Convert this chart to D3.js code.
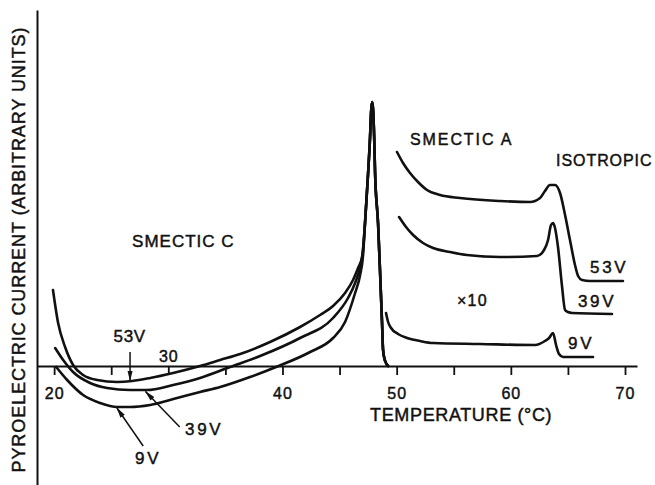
<!DOCTYPE html>
<html>
<head>
<meta charset="utf-8">
<script src="https://cdn.jsdelivr.net/npm/d3@7"></script>
<style>
  body { margin: 0; background: #fff; }
  text { font-family: "Liberation Sans", Arial, sans-serif; fill: #111; stroke: #111; stroke-width: 0.45px; }
</style>
</head>
<body>
<script>
// [temperature (°C), pyroelectric current (arb. units)]

// smectic C branch, one per field
var smC53 = [[19.9,7.6],[20.35,4.3],[20.96,1.9],[21.66,0.1],[22.54,-0.9],[23.77,-1.4],[25.52,-1.6],
  [26.83,-1.5],[28.41,-1.2],[30.42,-0.7],[32.78,0],[34.54,0.6],[36.29,1.2],[38.91,2.4],[41.54,3.9],
  [43.29,5.1],[44.43,6.0],[45.48,7.3],[46.18,8.6],[46.62,9.8],[46.97,10.9]];
var smC39 = [[20.09,1.8],[20.79,0.6],[21.66,-0.6],[23.15,-1.7],[24.64,-2.2],[26.65,-2.4],[28.14,-2.4],
  [30.42,-1.9],[32.78,-1.2],[35.41,-0.1],[38.04,1.0],[41.54,2.8],[44.43,4.8],[45.74,6.8],[46.36,8.3],
  [46.8,9.9],[47.06,11.6]];
var smC9 = [[20.18,-0.1],[21.14,-1.4],[22.54,-2.9],[24.03,-3.7],[25.52,-4.1],[26.65,-4.1],[28.41,-3.9],
  [30.77,-3.2],[32.78,-2.6],[34.54,-2.1],[37.16,-1.1],[39.44,-0.1],[42.42,1.4],[44.43,2.8],[45.48,4.4],
  [46.36,7.3],[46.8,9.1],[47.06,11.1]];

// the transition peak all three share
var peak = [[47.23,14.3],[47.5,19.3],[47.67,22.9],[47.76,25.4],[47.85,26.4],[47.94,25.6],[48.03,22.9],
  [48.11,19.3],[48.37,14.3],[48.55,9.3],[48.72,4.3],[48.81,1.6],[48.99,0.5],[49.25,0]];

// smectic A / isotropic branch (x10)
var smA53 = [[50.03,21.4],[50.56,20.3],[51.17,19.3],[51.87,18.4],[52.66,17.6],[53.8,17.1],[55.55,16.8],
  [59.05,16.5],[61.68,16.4],[62.56,16.8],[62.99,17.5],[63.43,18.1],[63.87,18.1],[64.31,17.3],
  [64.75,15.1],[65.18,12.6],[65.62,10.1],[65.89,9.0],[66.24,8.6],[66.93,8.5],[69.82,8.5]];
var smA39 = [[50.21,14.9],[50.82,13.9],[51.44,13.1],[52.31,12.3],[53.19,11.8],[54.68,11.4],[56.16,11.1],
  [59.05,10.9],[62.29,11.0],[62.91,11.6],[63.26,12.6],[63.52,14.1],[63.7,14.3],[63.87,13.8],
  [64.13,11.9],[64.48,8.0],[64.75,5.6],[65.01,5.4],[65.36,5.3],[68.86,5.2]];
var smA9 = [[49.07,5.3],[49.25,4.4],[49.51,3.8],[50.12,3.2],[50.91,2.8],[52.05,2.5],[53.19,2.3],
  [57.3,2.2],[62.12,2.1],[62.99,2.5],[63.35,2.8],[63.7,3.3],[63.96,2.1],[64.22,1.2],[64.57,0.9],[67.2,0.9]];

var xTicks = [20, 25, 30, 35, 40, 45, 50, 55, 60, 65, 70];
var voltLabels = ["53V", "39V", "9V"];
var phaseLabels = ["SMECTIC C", "SMECTIC A", "ISOTROPIC"];
var xTitle = "TEMPERATURE (\u00B0C)";
var yTitle = "PYROELECTRIC CURRENT (ARBITRARY UNITS)";

var width = 655, height = 485;

var svg = d3.select("body").append("svg")
  .attr("width", width)
  .attr("height", height);

var x = d3.scaleLinear().domain([18.5, 71.05]).range([37, 637]);
var y = d3.scaleLinear().domain([-11.9, 35.6]).range([485, 10]);

// arrow head
svg.append("defs").append("marker")
  .attr("id", "head")
  .attr("markerUnits", "userSpaceOnUse")
  .attr("viewBox", "0 -4 11 8")
  .attr("refX", 10).attr("refY", 0)
  .attr("markerWidth", 11).attr("markerHeight", 8)
  .attr("orient", "auto")
  .append("path")
  .attr("d", "M0,-2.6L11,0L0,2.6Z")
  .attr("fill", "#111");

// x axis along zero current
var xAxis = svg.append("g")
  .attr("transform", "translate(0," + y(0) + ")")
  .call(d3.axisBottom(x).tickValues(xTicks).tickSize(9).tickSizeOuter(0).tickPadding(13)
    .tickFormat(function(d){ return d % 10 === 0 ? d : ""; }));
xAxis.select(".domain").attr("stroke", "#111").attr("stroke-width", 2);
xAxis.selectAll(".tick line").attr("stroke", "#111").attr("stroke-width", 1.8);
xAxis.selectAll(".tick text")
  .style("font-family", "'Liberation Sans', Arial, sans-serif")
  .style("font-size", "16px")
  .attr("fill", "#111")
  .attr("letter-spacing", 1);
// 30 sits above the axis in the original
xAxis.selectAll(".tick").filter(function(d){ return d === 30; })
  .select("text").attr("y", -15);

// y axis: bare line
var yAxis = svg.append("g")
  .attr("transform", "translate(" + x(18.5) + ",0)")
  .call(d3.axisLeft(y).tickValues([]).tickSizeOuter(0));
yAxis.select(".domain").attr("stroke", "#111").attr("stroke-width", 2);

var line = d3.line()
  .x(function(d){ return x(d[0]); })
  .y(function(d){ return y(d[1]); })
  .curve(d3.curveMonotoneX);

var series = [smC53.concat(peak), smC39.concat(peak), smC9.concat(peak), smA53, smA39, smA9];

svg.selectAll(".curve")
  .data(series)
  .enter().append("path")
  .attr("class", "curve")
  .attr("d", line)
  .attr("fill", "none")
  .attr("stroke", "#111")
  .attr("stroke-width", 2.6)
  .attr("stroke-linecap", "round")
  .attr("stroke-linejoin", "round");

// arrows pointing to the smectic C minima
var arrows = [
  {from: [26.65, 1.4], to: [26.65, -1.45]},
  {from: [31.0, -6.1], to: [28.0, -2.55]},
  {from: [27.8, -8.0], to: [25.5, -4.2]}
];
svg.selectAll(".arrow")
  .data(arrows)
  .enter().append("line")
  .attr("class", "arrow")
  .attr("x1", function(d){ return x(d.from[0]); })
  .attr("y1", function(d){ return y(d.from[1]); })
  .attr("x2", function(d){ return x(d.to[0]); })
  .attr("y2", function(d){ return y(d.to[1]); })
  .attr("stroke", "#111")
  .attr("stroke-width", 1.5)
  .attr("marker-end", "url(#head)");

function label(txt, t, i, size, anchor, len) {
  var el = svg.append("text")
    .attr("x", x(t))
    .attr("y", y(i))
    .attr("text-anchor", anchor || "start")
    .style("font-size", size + "px")
    .attr("letter-spacing", 1.5)
    .text(txt);
  if (len) el.attr("textLength", len).attr("lengthAdjust", "spacing");
  return el;
}

label(phaseLabels[0], 26.83, 11.9, 17, "start", 103);
label(phaseLabels[1], 51.17, 22.1, 16, "start", 103);
label(phaseLabels[2], 63.96, 20.0, 16, "start", 97);

// right-hand field labels
label(voltLabels[0], 66.94, 9.3, 17, "start", 37);
label(voltLabels[1], 65.88, 5.9, 17, "start", 37);
label(voltLabels[2], 65.01, 1.7, 17, "start", 25);
label("\u00D710", 55.29, 6.0, 16, "start", 31);

// left-hand field labels
label(voltLabels[0], 26.65, 2.4, 17, "middle", 33);
label(voltLabels[1], 31.47, -6.9, 17, "start", 37);
label(voltLabels[2], 27.09, -9.8, 17, "start", 25);

label(xTitle, 47.67, -5.5, 18, "start", 183);

svg.append("text")
  .attr("transform", "translate(25," + 250 + ") rotate(-90)")
  .attr("text-anchor", "middle")
  .style("font-size", "18px")
  .attr("textLength", 445)
  .attr("lengthAdjust", "spacing")
  .text(yTitle);
</script>
</body>
</html>
